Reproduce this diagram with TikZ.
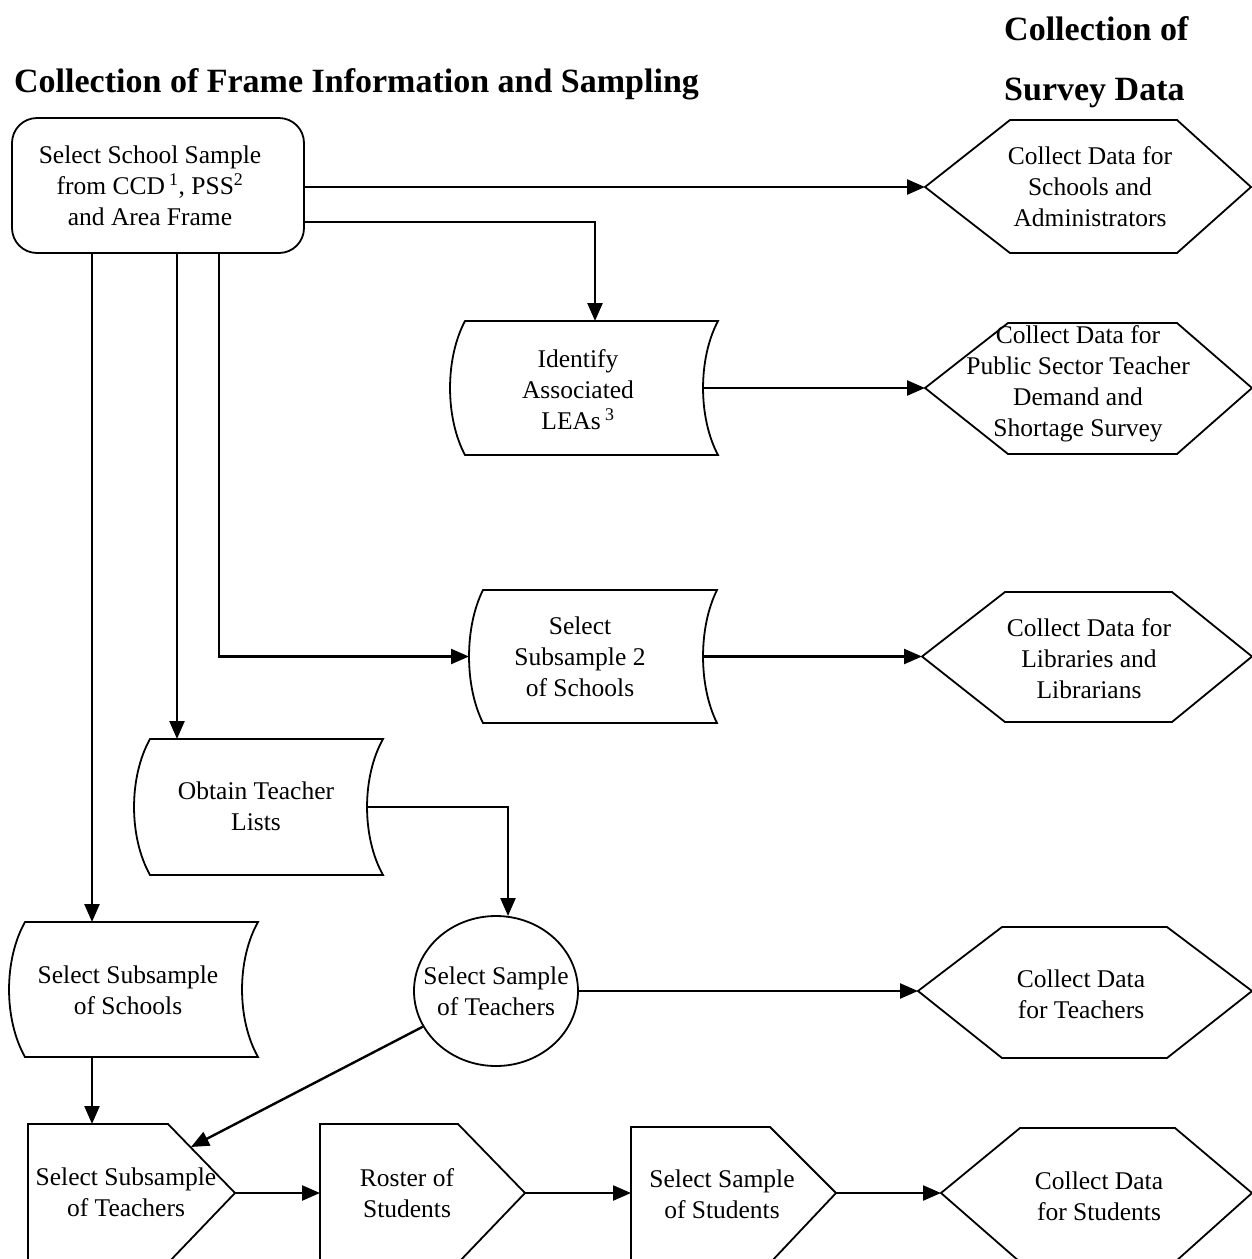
\documentclass[tikz,border=0pt]{standalone}
\usepackage{fontspec}
\setmainfont{Liberation Serif}
\usetikzlibrary{arrows.meta,shapes.geometric,calc}
\tikzset{
 shp/.style={draw=black, line width=1.8pt, line join=miter},
 arr/.style={draw=black, line width=2.4pt, -{Triangle[length=18pt,width=15pt]}},
 txt/.style={align=center, inner sep=0pt, font=\fontsize{25.5}{31}\selectfont},
 head/.style={inner sep=0pt, font=\bfseries\fontsize{34}{40}\selectfont},
}
% stored-data shape: name, L, T, R, B, bulge
\newcommand\storedshape[6]{%
 \pgfmathsetmacro\sdh{#5-#3}%
 \pgfmathsetmacro\sdk{1.33*#6}%
 \draw[shp] (#2,#3) -- (#4,#3) .. controls ({#4-\sdk},{#3+0.28*\sdh}) and ({#4-\sdk},{#5-0.28*\sdh}) .. (#4,#5) -- (#2,#5) .. controls ({#2-\sdk},{#5-0.28*\sdh}) and ({#2-\sdk},{#3+0.28*\sdh}) .. cycle;
 \coordinate (#1-w) at ({#2-#6},{(#3+#5)/2});
 \coordinate (#1-e) at ({#4-#6},{(#3+#5)/2});
}
% hexagon: name, tip x, cy, top, bottom, x2, x3, x4
\newcommand\hexshape[8]{%
 \draw[shp] (#2,#3) -- (#6,#4) -- (#7,#4) -- (#8,#3) -- (#7,#5) -- (#6,#5) -- cycle;
 \coordinate (#1-w) at (#2,#3);
}
% pentagon pointing right (bottom cut by the page edge): name, L, top, corner x, point x, point y
\newcommand\penshape[6]{%
 \draw[shp] (#2,#3) -- (#4,#3) -- (#5,#6) -- (#4,1263) -- (#2,1263) -- cycle;
 \coordinate (#1-w) at (#2,#6);
 \coordinate (#1-e) at (#5,#6);
}
\begin{document}
\begin{tikzpicture}[x=1pt,y=-1pt]
\useasboundingbox (0,0) rectangle (1252,1259);
\clip (0,0) rectangle (1252,1259);

% headings
\node[head, anchor=base west] (h1) at (14,92) {Collection of Frame Information and Sampling};
\node[head, anchor=base west] (h2) at (1004,40) {Collection of};
\node[head, anchor=base west] (h3) at (1004,100) {Survey Data};

% top box
\node[shp, rounded corners=25pt, minimum width=292pt, minimum height=135pt, inner sep=0pt] (A) at (158,185.5) {};
\node[txt] (At) at (150,186) {Select School Sample\\from CCD\,\textsuperscript{1}, PSS\textsuperscript{2}\\and Area Frame};

% stored data shapes
\storedshape{E}{465}{321}{718}{455}{15}
\node[txt] (Et) at (578,390) {Identify\\Associated\\LEAs\,\textsuperscript{3}};
\storedshape{D}{483}{590}{717}{723}{14}
\node[txt] (Dt) at (580,657) {Select\\Subsample 2\\of Schools};
\storedshape{C}{150}{739}{383}{875}{16}
\node[txt] (Ct) at (256,806) {Obtain Teacher\\Lists};
\storedshape{B}{25}{922}{258}{1057}{16}
\node[txt] (Bt) at (128,990) {Select Subsample\\of Schools};

% circle
\node[shp, ellipse, minimum width=164pt, minimum height=150pt, inner sep=0pt] (T) at (496,991) {};
\node[txt] (Tt) at (496,991) {Select Sample\\of Teachers};

% hexagons
\hexshape{H1}{925}{187}{120}{253}{1010}{1177}{1251}
\node[txt] (H1t) at (1090,187) {Collect Data for\\Schools and\\Administrators};
\hexshape{H2}{925}{388}{323}{454}{1008}{1177}{1252}
\node[txt] (H2t) at (1078,384) {Collect Data for\\Public Sector Teacher\\Demand and\\Shortage Survey};
\hexshape{H3}{922}{656.5}{592}{722}{1005}{1172}{1252}
\node[txt] (H3t) at (1089,659) {Collect Data for\\Libraries and\\Librarians};
\hexshape{H4}{918}{991}{927}{1058}{1002}{1167}{1252}
\node[txt] (H4t) at (1081,994) {Collect Data\\for Teachers};
\hexshape{H5}{941}{1193}{1128}{1262}{1020}{1175}{1252}
\node[txt] (H5t) at (1099,1196) {Collect Data\\for Students};

% pentagons
\penshape{P1}{28}{1124}{168}{235}{1193}
\node[txt] (P1t) at (126,1192) {Select Subsample\\of Teachers};
\penshape{P2}{320}{1124}{458}{525}{1193}
\node[txt] (P2t) at (407,1193) {Roster of\\Students};
\penshape{P3}{631}{1127}{770}{836}{1193}
\node[txt] (P3t) at (722,1194) {Select Sample\\of Students};

% connector points
\coordinate (a1) at (304,222);
\coordinate (a3) at (219,253);
\coordinate (E-n) at (595,321);
\coordinate (B-n) at (92,922);
\coordinate (C-n) at (177,739);
\coordinate (B-s) at (92,1057);
\coordinate (T-in) at (508,916);
\coordinate (P1-n) at (92,1124);
\coordinate (P1-in) at (191,1147);

% connectors
\draw[arr] (A.east |- H1-w) -- (H1-w);
\draw[arr] (a1) -| (E-n);
\draw[arr] (A.south -| B-n) -- (B-n);
\draw[arr] (A.south -| C-n) -- (C-n);
\draw[arr] (a3) |- (D-w);
\draw[arr] (E-e) -- (H2-w);
\draw[arr] (D-e) -- (H3-w);
\draw[arr] (C-e) -| (T-in);
\draw[arr] (T.east) -- (H4-w);
\draw[arr] (T.206) -- (P1-in);
\draw[arr] (B-s) -- (P1-n);
\draw[arr] (P1-e) -- (P2-w);
\draw[arr] (P2-e) -- (P3-w);
\draw[arr] (P3-e) -- (H5-w);
\end{tikzpicture}
\end{document}
